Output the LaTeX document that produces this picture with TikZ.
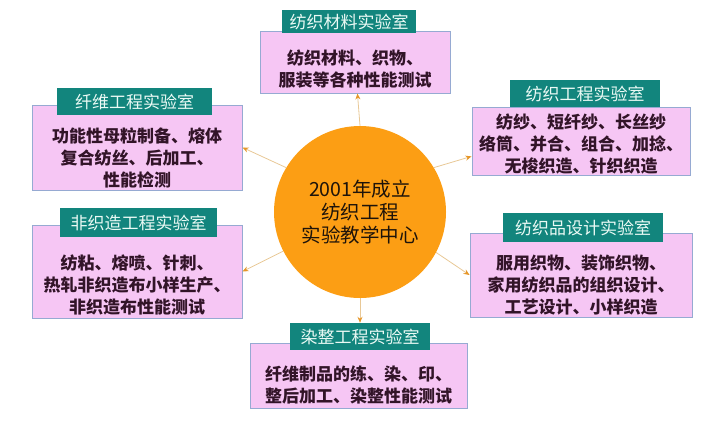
\documentclass[tikz,border=0pt]{standalone}
\usepackage{fontspec}
\setmainfont{Noto Sans CJK SC}
\usetikzlibrary{arrows.meta}
\definecolor{labpink}{RGB}{246,198,244}
\definecolor{boxedge}{RGB}{150,170,210}
\definecolor{labteal}{RGB}{18,133,125}
\definecolor{headtext}{RGB}{235,250,245}
\definecolor{bodytext}{RGB}{50,20,40}
\definecolor{huborange}{RGB}{252,158,20}
\definecolor{linktan}{RGB}{232,200,150}
\definecolor{tiporange}{RGB}{230,150,40}
\tikzstyle{labbox}=[draw=boxedge,line width=1pt,fill=labpink,inner sep=0pt]
\tikzstyle{labhead}=[fill=labteal,text=headtext,font=\fontsize{17}{20}\selectfont,minimum height=27pt,inner sep=0pt]
\tikzstyle{labtext}=[align=center,text=bodytext,font=\fontsize{17}{22}\selectfont\bfseries]
\tikzstyle{hub}=[circle,fill=huborange,minimum size=172pt,inner sep=0pt,align=center,text=black!85!brown,font=\fontsize{19.5}{23}\selectfont]
\tikzstyle{link}=[draw=linktan,line width=0.8pt,-{Stealth[length=6pt,width=5pt,color=tiporange]}]

\begin{document}
\begin{tikzpicture}[x=1pt,y=1pt]
    \useasboundingbox (0,0) rectangle (714,424);
    % pink boxes
    \node[labbox,minimum width=190pt,minimum height=61pt] (matl) at (355,361.5) {};
    \node[labbox,minimum width=210pt,minimum height=85pt] (fiber) at (137,276.5) {};
    \node[labbox,minimum width=218pt,minimum height=68pt] (textile) at (581,283) {};
    \node[labbox,minimum width=210pt,minimum height=93pt] (nonwoven) at (137,152.5) {};
    \node[labbox,minimum width=222pt,minimum height=84pt] (design) at (581,149) {};
    \node[labbox,minimum width=217pt,minimum height=65pt] (dye) at (358.5,48.5) {};

    % titles
    \node[labhead,minimum width=134pt,minimum height=23pt] (matlhead) at (349,402.5) {纺织材料实验室};
    \node[labhead,minimum width=155pt] (fiberhead) at (134.5,322.5) {纤维工程实验室};
    \node[labhead,minimum width=150pt] (textilehead) at (585,330.5) {纺织工程实验室};
    \node[labhead,minimum width=157pt,minimum height=29pt] (nonwovenhead) at (138.5,201.5) {非织造工程实验室};
    \node[labhead,minimum width=160pt,minimum height=29pt] (designhead) at (583,196.5) {纺织品设计实验室};
    \node[labhead,minimum width=140pt] (dyehead) at (360,87.5) {染整工程实验室};

    % contents
    \node[labtext] (matltxt) at (355,355) {纺织材料、织物、\\服装等各种性能测试};
    \node[labtext] (fibertxt) at (137,266) {功能性母粒制备、熔体\\复合纺丝、后加工、\\性能检测};
    \node[labtext] (textiletxt) at (581,280) {纺纱、短纤纱、长丝纱\\络筒、并合、组合、加捻、\\无梭织造、针织织造};
    \node[labtext] (nonwoventxt) at (137,139) {纺粘、熔喷、针刺、\\热轧非织造布小样生产、\\非织造布性能测试};
    \node[labtext] (designtxt) at (581,139) {服用织物、装饰织物、\\家用纺织品的组织设计、\\工艺设计、小样织造};
    \node[labtext] (dyetxt) at (358.5,39) {纤维制品的练、染、印、\\整后加工、染整性能测试};

    % centre
    \node[hub] (hub) at (360,212) {2001年成立\\纺织工程\\实验教学中心};

    \foreach \from/\to in {hub.north/matl,hub.149/fiber.east,hub.31/textile.188,hub.207/nonwoven.east,hub.332/design.west,hub.south/dyehead}
    \draw[link] (\from) -- (\to);
\end{tikzpicture}
\end{document}
